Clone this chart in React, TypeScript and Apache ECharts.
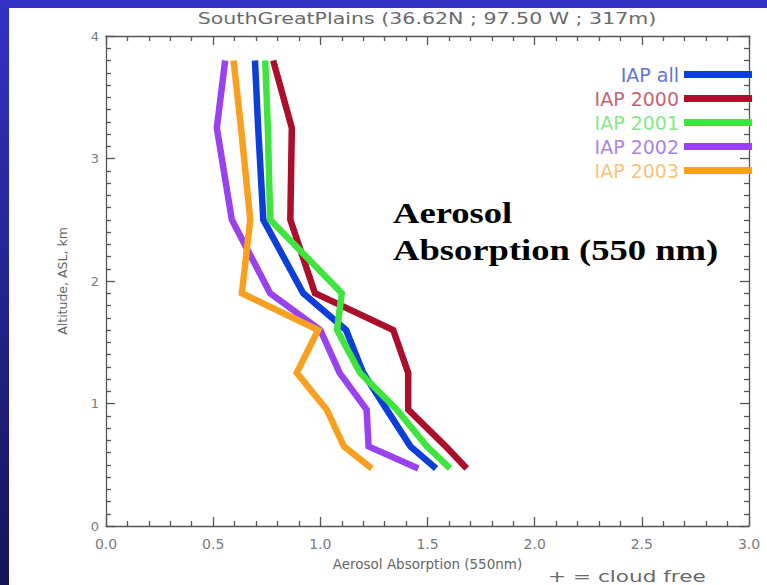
import React, { useEffect, useRef } from "react";
import * as echarts from "echarts";

// Altitude levels (km ASL) shared by all profiles
const ALTITUDE = [3.8, 3.25, 2.5, 1.9, 1.6, 1.25, 0.95, 0.65, 0.47];

const SERIES_NAMES = ["IAP all", "IAP 2000", "IAP 2001", "IAP 2002", "IAP 2003"];
// Aerosol absorption (550 nm) at each altitude level
const IAP_ALL = [0.695, 0.71, 0.734, 0.92, 1.12, 1.2, 1.31, 1.42, 1.54];
const IAP_2000 = [0.78, 0.867, 0.86, 0.975, 1.34, 1.41, 1.41, 1.585, 1.683];
const IAP_2001 = [0.743, 0.755, 0.766, 1.1, 1.078, 1.185, 1.357, 1.497, 1.605];
const IAP_2002 = [0.556, 0.517, 0.587, 0.766, 1.0, 1.09, 1.216, 1.225, 1.457];
const IAP_2003 = [0.595, 0.63, 0.673, 0.634, 0.99, 0.89, 1.03, 1.11, 1.24];

const LINE_COLORS = ["#0c3ed8", "#aa0f2c", "#3fe43f", "#9a42f0", "#f8a020"];
const TEXT_COLORS = ["#6474d2", "#c46676", "#86e886", "#a886e6", "#f8c47a"];

const TITLE = "SouthGreatPlains (36.62N ; 97.50 W ; 317m)";
const X_NAME = "Aerosol Absorption (550nm)";
const Y_NAME = "Altitude, ASL, km";
const NOTE = "+ = cloud free";
const ANNOT_1 = "Aerosol";
const ANNOT_2 = "Absorption (550 nm)";

const VALUES = [IAP_ALL, IAP_2000, IAP_2001, IAP_2002, IAP_2003];

export default function App() {
  const ref = useRef<HTMLDivElement>(null);

  useEffect(() => {
    if (!ref.current) return;
    const chart = echarts.init(ref.current, null, { renderer: "svg" });
    const axisColor = "#555555";
    const labelColor = "#7a7a7a";
    const font = "DejaVu Sans";

    const tickStyle = { color: axisColor, width: 1.3, opacity: 1 };
    const xCommon = {
      type: "value",
      min: 0,
      max: 3,
      interval: 0.5,
      axisLine: { show: true, onZero: false, lineStyle: tickStyle },
      axisTick: { show: true, inside: true, length: 9, lineStyle: tickStyle },
      minorTick: { show: true, splitNumber: 5, length: 5, lineStyle: tickStyle },
      splitLine: { show: false },
      minorSplitLine: { show: false },
    };
    const yCommon = {
      type: "value",
      min: 0,
      max: 4,
      interval: 1,
      axisLine: { show: true, onZero: false, lineStyle: tickStyle },
      axisTick: { show: true, inside: true, length: 9, lineStyle: tickStyle },
      minorTick: { show: true, splitNumber: 10, length: 5, lineStyle: tickStyle },
      splitLine: { show: false },
      minorSplitLine: { show: false },
    };

    chart.setOption({
      animation: false,
      backgroundColor: "transparent",
      grid: { left: 106, right: 18, top: 36, bottom: 59, containLabel: false },
      xAxis: [
        {
          ...xCommon,
          position: "bottom",
          name: X_NAME,
          nameLocation: "middle",
          nameGap: 31,
          nameTextStyle: { fontFamily: font, fontSize: 13.5, color: "#666" },
          axisLabel: {
            show: true,
            margin: 11,
            fontFamily: font,
            fontSize: 14,
            color: labelColor,
            formatter: (v: number) => v.toFixed(1),
          },
        },
        { ...xCommon, position: "top", axisLabel: { show: false } },
      ],
      yAxis: [
        {
          ...yCommon,
          position: "left",
          name: Y_NAME,
          nameLocation: "middle",
          nameGap: 37,
          nameRotate: 90,
          nameTextStyle: { fontFamily: font, fontSize: 12.5, color: "#666" },
          axisLabel: { show: true, margin: 7, fontFamily: font, fontSize: 13, color: labelColor },
        },
        { ...yCommon, position: "right", axisLabel: { show: false } },
      ],
      legend: {
        orient: "vertical",
        right: 15,
        top: 65,
        padding: 0,
        align: "right",
        icon: "rect",
        itemWidth: 68,
        itemHeight: 7,
        itemGap: 5,
        selectedMode: false,
        textStyle: { fontFamily: font, fontSize: 19, lineHeight: 18, padding: [0, 0, 0, 0] },
        data: SERIES_NAMES.map((n, i) => ({ name: n, textStyle: { color: TEXT_COLORS[i] } })),
      },
      series: SERIES_NAMES.map((n, i) => ({
        name: n,
        type: "line",
        xAxisIndex: 0,
        yAxisIndex: 0,
        symbol: "none",
        color: LINE_COLORS[i],
        lineStyle: { width: 6.5, color: LINE_COLORS[i], join: "miter" },
        data: VALUES[i].map((v, k) => [v, ALTITUDE[k]]),
        z: 2 + i,
      })),
      graphic: [
        {
          type: "text",
          x: 427,
          y: 19,
          scaleX: 1.37,
          style: {
            text: TITLE,
            align: "center",
            verticalAlign: "middle",
            fontFamily: font,
            fontSize: 15,
            fill: "#6a6a6a",
          },
        },
        {
          type: "text",
          x: 548,
          y: 576,
          scaleX: 1.35,
          style: {
            text: NOTE,
            align: "left",
            verticalAlign: "middle",
            fontFamily: font,
            fontSize: 16,
            fill: "#6a6a6a",
          },
        },
        {
          type: "text",
          x: 393,
          y: 213,
          scaleX: 1.22,
          style: {
            text: ANNOT_1,
            align: "left",
            verticalAlign: "middle",
            fontFamily: "Liberation Serif",
            fontWeight: "bold",
            fontSize: 30,
            fill: "#000",
          },
        },
        {
          type: "text",
          x: 393,
          y: 250,
          scaleX: 1.22,
          style: {
            text: ANNOT_2,
            align: "left",
            verticalAlign: "middle",
            fontFamily: "Liberation Serif",
            fontWeight: "bold",
            fontSize: 30,
            fill: "#000",
          },
        },
      ],
    });

    return () => chart.dispose();
  }, []);

  return (
    <div
      style={{
        position: "fixed",
        left: 0,
        top: 0,
        width: 767,
        height: 585,
        background: "linear-gradient(to bottom, #3232c4, #141458)",
        overflow: "hidden",
      }}
    >
      <div style={{ position: "absolute", left: 9, top: 8, right: 0, bottom: 0, background: "#fff" }} />
      <div ref={ref} style={{ position: "absolute", left: 0, top: 0, width: 767, height: 585 }} />
    </div>
  );
}
